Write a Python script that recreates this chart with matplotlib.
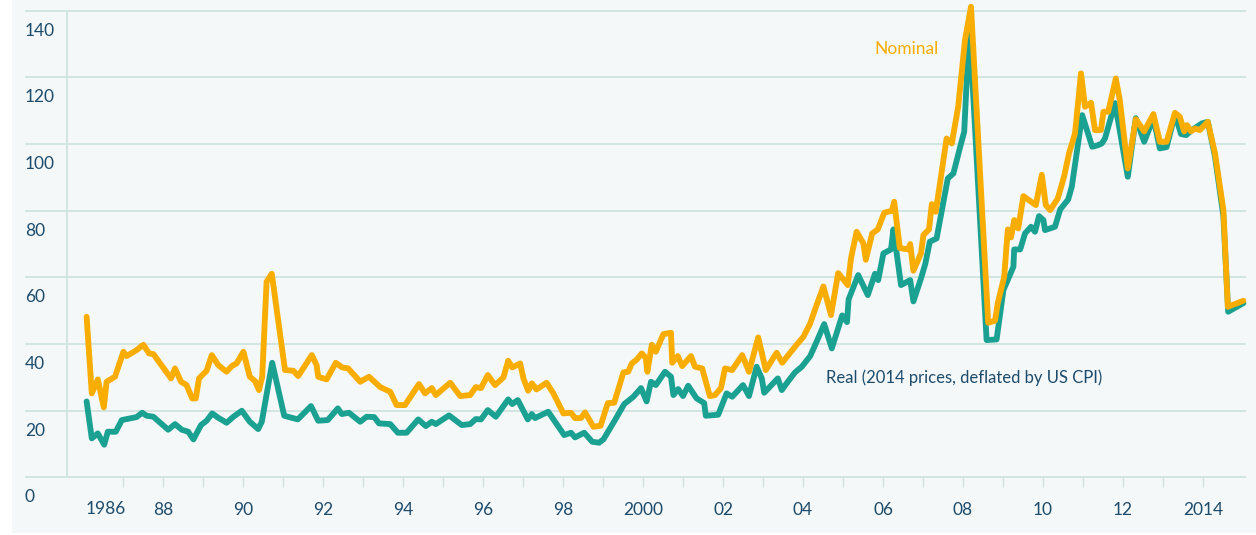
import matplotlib
matplotlib.use('Agg')
import matplotlib.pyplot as plt
import matplotlib.transforms as mtransforms
from matplotlib.patches import Rectangle

# orange series (labelled "Nominal" in the chart)
nominal_t = [1986.09, 1986.22, 1986.37, 1986.52, 1986.59, 1986.80, 1987.01, 1987.09, 1987.34, 1987.51,
             1987.65, 1987.76, 1988.20, 1988.30, 1988.45, 1988.59, 1988.73, 1988.82, 1988.90, 1989.09,
             1989.22, 1989.38, 1989.59, 1989.72, 1989.84, 1990.01, 1990.17, 1990.30, 1990.40, 1990.48,
             1990.59, 1990.72, 1991.05, 1991.26, 1991.38, 1991.72, 1991.84, 1991.88, 1992.09, 1992.32,
             1992.48, 1992.63, 1992.93, 1993.15, 1993.43, 1993.68, 1993.84, 1994.05, 1994.40, 1994.55,
             1994.72, 1994.82, 1995.18, 1995.43, 1995.68, 1995.82, 1995.95, 1996.12, 1996.30, 1996.51,
             1996.63, 1996.73, 1996.93, 1997.01, 1997.13, 1997.22, 1997.34, 1997.59, 1997.76, 1998.01,
             1998.20, 1998.30, 1998.45, 1998.55, 1998.76, 1998.94, 1999.12, 1999.28, 1999.51, 1999.63,
             1999.72, 1999.84, 1999.97, 2000.07, 2000.11, 2000.22, 2000.32, 2000.51, 2000.70, 2000.73,
             2000.87, 2000.98, 2001.20, 2001.30, 2001.48, 2001.67, 2001.80, 2001.95, 2002.05, 2002.23,
             2002.48, 2002.65, 2002.88, 2003.07, 2003.34, 2003.48, 2003.80, 2004.01, 2004.18, 2004.34,
             2004.51, 2004.70, 2004.88, 2005.12, 2005.20, 2005.34, 2005.51, 2005.57, 2005.73, 2005.87,
             2006.03, 2006.22, 2006.28, 2006.42, 2006.63, 2006.68, 2006.76, 2006.95, 2007.01, 2007.15,
             2007.22, 2007.32, 2007.59, 2007.72, 2007.88, 2008.05, 2008.20, 2008.63, 2008.80, 2008.87,
             2009.03, 2009.12, 2009.20, 2009.28, 2009.38, 2009.51, 2009.82, 2009.97, 2010.07, 2010.18,
             2010.37, 2010.53, 2010.65, 2010.80, 2010.95, 2011.05, 2011.20, 2011.30, 2011.45, 2011.51,
             2011.63, 2011.82, 2011.92, 2012.12, 2012.32, 2012.53, 2012.76, 2012.92, 2013.09, 2013.30,
             2013.42, 2013.53, 2013.60, 2013.70, 2013.80, 2013.92, 2014.12, 2014.30, 2014.51, 2014.62,
             2015.01]
nominal = [48.2, 25.2, 29.4, 21.0, 28.7, 30.2, 37.7, 36.4, 38.2, 39.8,
           37.2, 37.0, 29.7, 32.7, 28.7, 27.7, 23.7, 23.7, 29.7, 32.0,
           36.7, 33.7, 31.7, 33.4, 34.2, 37.7, 30.2, 28.9, 26.2, 30.2,
           58.7, 61.1, 32.2, 32.0, 30.4, 36.7, 33.7, 30.2, 29.4, 34.4,
           33.0, 32.7, 28.7, 30.2, 27.1, 25.7, 21.7, 21.7, 28.0, 25.2,
           26.8, 24.7, 28.4, 24.4, 24.7, 27.1, 26.8, 30.7, 27.7, 30.0,
           35.0, 33.0, 34.2, 29.7, 26.0, 28.2, 26.4, 28.4, 25.2, 19.2,
           19.4, 17.8, 17.8, 19.5, 15.2, 15.5, 22.3, 22.4, 31.5, 31.7,
           34.2, 35.3, 37.2, 35.8, 31.7, 39.8, 37.7, 43.0, 43.4, 34.4,
           36.4, 33.4, 36.4, 33.2, 32.7, 24.4, 24.7, 26.8, 32.7, 32.2,
           36.7, 31.7, 42.0, 32.2, 37.4, 34.4, 39.2, 42.2, 46.2, 51.7,
           57.3, 48.7, 61.3, 57.7, 65.7, 73.7, 70.2, 65.3, 73.2, 74.4,
           79.4, 80.0, 82.7, 68.8, 68.4, 70.0, 62.0, 67.2, 72.7, 74.4,
           82.0, 79.7, 101.7, 100.2, 111.2, 131.2, 141.2, 46.4, 47.0, 52.3,
           60.2, 74.4, 72.0, 77.2, 74.7, 84.4, 81.7, 90.8, 81.7, 80.2,
           83.7, 90.4, 97.2, 103.2, 121.2, 111.2, 112.4, 104.2, 104.2, 109.7,
           109.7, 119.7, 113.2, 92.7, 107.5, 103.8, 109.0, 100.7, 100.7, 109.4,
           108.2, 103.8, 105.7, 103.8, 104.7, 104.2, 106.7, 97.2, 80.2, 51.2,
           53.0]

# teal series (labelled "Real (2014 prices, deflated by US CPI)")
real_t = [1986.09, 1986.22, 1986.37, 1986.53, 1986.62, 1986.82, 1986.97, 1987.34, 1987.48, 1987.59,
          1987.76, 1988.13, 1988.30, 1988.47, 1988.63, 1988.76, 1988.95, 1989.09, 1989.23, 1989.38,
          1989.59, 1989.76, 1989.97, 1990.17, 1990.38, 1990.47, 1990.73, 1991.03, 1991.37, 1991.70,
          1991.88, 1992.12, 1992.37, 1992.47, 1992.65, 1992.93, 1993.09, 1993.28, 1993.40, 1993.68,
          1993.87, 1994.09, 1994.38, 1994.57, 1994.72, 1994.82, 1995.15, 1995.47, 1995.68, 1995.82,
          1995.95, 1996.12, 1996.32, 1996.63, 1996.73, 1996.87, 1997.12, 1997.22, 1997.30, 1997.63,
          1998.03, 1998.20, 1998.30, 1998.53, 1998.73, 1998.90, 1999.01, 1999.30, 1999.53, 1999.76,
          1999.95, 2000.09, 2000.20, 2000.32, 2000.55, 2000.70, 2000.76, 2000.88, 2001.00, 2001.13,
          2001.34, 2001.53, 2001.57, 2001.88, 2002.01, 2002.09, 2002.23, 2002.50, 2002.65, 2002.84,
          2002.97, 2003.03, 2003.37, 2003.47, 2003.62, 2003.80, 2003.97, 2004.18, 2004.34, 2004.53,
          2004.72, 2004.98, 2005.10, 2005.14, 2005.38, 2005.62, 2005.80, 2005.88, 2006.01, 2006.20,
          2006.26, 2006.45, 2006.68, 2006.76, 2006.95, 2007.06, 2007.17, 2007.34, 2007.62, 2007.76,
          2007.93, 2008.03, 2008.16, 2008.59, 2008.84, 2009.01, 2009.26, 2009.28, 2009.43, 2009.55,
          2009.70, 2009.80, 2009.90, 2010.01, 2010.05, 2010.30, 2010.43, 2010.63, 2010.72, 2010.84,
          2010.98, 2011.23, 2011.38, 2011.47, 2011.55, 2011.80, 2012.12, 2012.32, 2012.53, 2012.76,
          2012.92, 2013.09, 2013.30, 2013.45, 2013.58, 2013.72, 2013.97, 2014.12, 2014.30, 2014.51,
          2014.63, 2015.01]
real = [22.8, 11.7, 13.2, 9.8, 13.7, 13.7, 17.2, 18.1, 19.4, 18.5,
        18.2, 14.3, 16.0, 14.3, 13.7, 11.4, 15.7, 17.0, 19.2, 17.9,
        16.4, 18.2, 20.0, 16.7, 14.5, 16.7, 34.4, 18.5, 17.4, 21.4,
        17.0, 17.2, 20.7, 19.0, 19.4, 16.7, 18.2, 18.1, 16.2, 16.0,
        13.4, 13.4, 17.4, 15.4, 16.7, 16.0, 18.6, 15.7, 16.0, 17.5,
        17.4, 20.2, 18.2, 23.4, 22.0, 23.2, 17.4, 19.0, 17.8, 19.7,
        12.7, 13.4, 12.0, 13.4, 10.7, 10.4, 11.4, 17.2, 22.0, 24.2,
        26.8, 22.8, 28.7, 27.7, 31.7, 30.2, 24.7, 26.5, 24.4, 27.5,
        23.7, 22.3, 18.5, 18.8, 22.8, 25.2, 24.2, 27.7, 24.4, 33.2,
        29.7, 25.4, 29.7, 26.2, 28.7, 31.5, 33.2, 36.4, 40.7, 46.0,
        38.7, 48.6, 46.6, 53.4, 60.7, 54.7, 61.1, 59.2, 67.2, 68.4,
        74.4, 57.7, 59.2, 52.8, 59.7, 64.2, 70.7, 71.7, 89.7, 91.2,
        99.2, 103.7, 135.7, 41.2, 41.4, 56.2, 63.2, 68.4, 68.4, 73.2,
        75.2, 73.7, 78.4, 77.2, 74.2, 75.2, 80.4, 83.4, 87.2, 97.2,
        108.7, 99.2, 99.7, 100.2, 101.7, 112.3, 90.2, 107.8, 100.7, 107.8,
        98.7, 99.1, 109.0, 103.0, 102.7, 104.2, 106.2, 106.7, 96.2, 78.3,
        49.7, 52.3]

y_ticks = [0, 20, 40, 60, 80, 100, 120, 140]
x_label_years = [1988, 1990, 1992, 1994, 1996, 1998, 2000, 2002, 2004, 2006, 2008, 2010, 2012, 2014]
x_labels = ['88', '90', '92', '94', '96', '98', '2000', '02', '04', '06', '08', '10', '12', '2014']
x_minor_years = list(range(1987, 2015, 2))

ORANGE = '#f8ad00'
TEAL = '#1aa192'
GRID = '#cfe3df'
TEXT = '#1d4b6b'
PANEL = '#f4f8f9'

plt.rcParams['font.family'] = ['Lato', 'DejaVu Sans']

W, H = 1256, 535
fig = plt.figure(figsize=(W / 100, H / 100), dpi=100)
fig.patch.set_facecolor('white')
fig.patches.append(Rectangle((12 / W, 2 / H), 1 - 12 / W, 1 - 2 / H,
                             transform=fig.transFigure, facecolor=PANEL, edgecolor='none', zorder=-10))

bottom_px = 477.4
ax = fig.add_axes([67 / W, 1 - bottom_px / H, (1245 - 67) / W, bottom_px / H])
ax.set_facecolor('none')
ax.set_xlim(1985.6, 2015.05)
ax.set_ylim(0, bottom_px / 3.333)

# gridlines reaching out over the label column
for v in y_ticks:
    ax.axhline(v, xmin=-0.035, xmax=1, color=GRID, lw=1.3, clip_on=False, zorder=1)

for s in ['top', 'right', 'bottom']:
    ax.spines[s].set_visible(False)
ax.spines['left'].set_bounds(0, 140)
ax.spines['left'].set_color(GRID)
ax.spines['left'].set_linewidth(1.3)

ax.plot(real_t, real, color=TEAL, lw=4.2, solid_joinstyle='round', solid_capstyle='round', zorder=3, clip_on=False)
ax.plot(nominal_t, nominal, color=ORANGE, lw=4.2, solid_joinstyle='round', solid_capstyle='round', zorder=4, clip_on=False)

# y labels sit below their gridlines
ax.set_yticks([])
down = mtransforms.ScaledTranslation(0, -20 / 100, fig.dpi_scale_trans)
ytrans = mtransforms.blended_transform_factory(ax.transAxes, ax.transData) + down
for v in y_ticks:
    ax.text(-0.0357, v, str(v), transform=ytrans, ha='left', va='center', fontsize=12.5, color=TEXT)

ax.set_xticks(x_label_years)
ax.set_xticklabels(x_labels)
ax.set_xticks(x_minor_years, minor=True)
ax.tick_params(axis='x', which='both', length=7.2, width=1, color=GRID, direction='out')
ax.tick_params(axis='x', which='major', pad=10.8, labelsize=12.5, labelcolor=TEXT)
xtrans = mtransforms.blended_transform_factory(ax.transData, ax.transAxes)
ax.text(1986.575, -32 / bottom_px, '1986', transform=xtrans, ha='center', va='center', fontsize=12.5, color=TEXT)

ax.text(2005.78, 128.5, 'Nominal', color=ORANGE, fontsize=12.5, ha='left', va='center')
ax.text(2004.58, 29.8, 'Real (2014 prices, deflated by US CPI)', color=TEXT, fontsize=12, ha='left', va='center')

fig.savefig('out.png', dpi=100, facecolor=fig.get_facecolor())
